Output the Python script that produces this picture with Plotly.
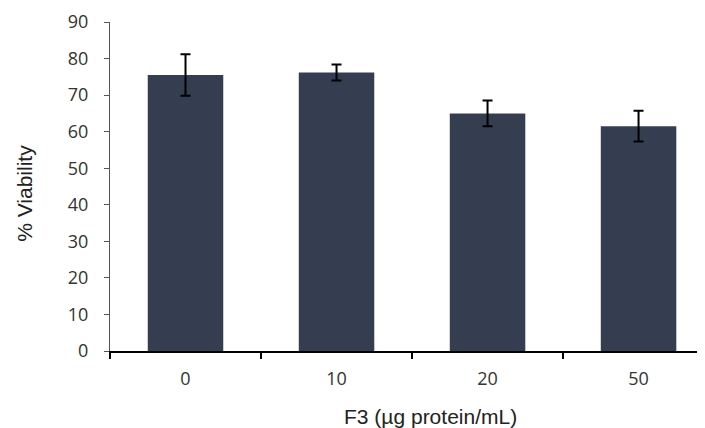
import plotly.graph_objects as go

categories = ["0", "10", "20", "50"]
viability = [75.5, 76.2, 65.0, 61.5]
errors = [5.7, 2.2, 3.5, 4.2]
y_ticks = [0, 10, 20, 30, 40, 50, 60, 70, 80, 90]
x_title = "F3 (µg protein/mL)"
y_title = "% Viability"

fig = go.Figure(go.Bar(
    x=categories, y=viability,
    marker=dict(color="#343e50", line=dict(width=0)),
    width=0.5,
    error_y=dict(type="data", array=errors, color="black", thickness=2, width=5),
))

tick_font = "Open Sans, DejaVu Sans, sans-serif"
title_font = "Liberation Sans, Arial, sans-serif"
# page body adds an 8px offset; figure sized to fill the 705x428 window
fig.update_layout(
    width=697, height=420,
    margin=dict(l=102, r=0, t=14, b=77),
    paper_bgcolor="white", plot_bgcolor="white",
    showlegend=False,
    font=dict(family=tick_font, size=18, color="#333333"),
    annotations=[
        dict(text=x_title, xref="paper", yref="paper", x=0.538, y=-0.198,
             xanchor="center", yanchor="middle", showarrow=False,
             font=dict(family=title_font, size=21, color="#222222")),
        dict(text=y_title, xref="paper", yref="paper", x=-0.145, y=0.48,
             xanchor="center", yanchor="middle", showarrow=False, textangle=-90,
             font=dict(family=title_font, size=21, color="#222222")),
    ],
)
fig.update_xaxes(
    type="category", range=[-0.5, 3.44], automargin=False,
    tickson="boundaries", ticks="outside", ticklen=6, tickwidth=2, tickcolor="black",
    showline=True, linecolor="black", linewidth=2,
    showgrid=False, ticklabelstandoff=10,
)
fig.update_yaxes(
    range=[0, 90], tickvals=y_ticks, automargin=False,
    ticks="outside", ticklen=5, tickwidth=1, tickcolor="#555555",
    showline=True, linecolor="#555555", linewidth=1,
    showgrid=False, zeroline=False, ticklabelstandoff=12,
)

fig.write_html("out.html")
